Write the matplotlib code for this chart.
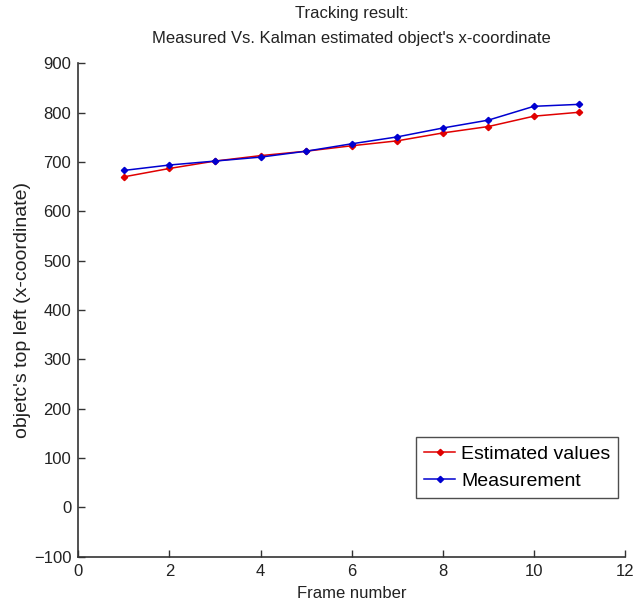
import matplotlib
matplotlib.use("Agg")
import matplotlib.pyplot as plt

frames = [1, 2, 3, 4, 5, 6, 7, 8, 9, 10, 11]
estimated = [670, 687, 702, 713, 722, 733, 743, 759, 772, 793, 801]
measured = [683, 694, 702, 710, 722, 737, 751, 769, 785, 813, 817]
xticks = [0, 2, 4, 6, 8, 10, 12]
yticks = [-100, 0, 100, 200, 300, 400, 500, 600, 700, 800, 900]

FONT = ["Liberation Sans", "DejaVu Sans"]
plt.rcParams["font.family"] = FONT

fig = plt.figure(figsize=(6.35, 6.09), dpi=100)
ax = fig.add_axes([0.1233, 0.0859, 0.861, 0.810])

ax.plot(frames, estimated, color="#e00000", marker="D", markersize=3.2,
        linewidth=1.1, label="Estimated values")
ax.plot(frames, measured, color="#0000d0", marker="D", markersize=3.2,
        linewidth=1.1, label="Measurement")

ax.set_xlim(0, 12)
ax.set_ylim(-100, 900)
ax.set_xticks(xticks)
ax.set_yticks(yticks)
ax.spines["top"].set_visible(False)
ax.spines["right"].set_visible(False)
for s in ("left", "bottom"):
    ax.spines[s].set_linewidth(1.2)
    ax.spines[s].set_color("#333333")
ax.tick_params(direction="in", length=5, width=1, colors="#333333",
               labelcolor="#222222", labelsize=12, pad=5)

ax.set_xlabel("Frame number", fontsize=12, labelpad=5, color="#222222")
ax.set_ylabel("objetc's top left (x-coordinate)", fontsize=14, labelpad=2, color="#222222")
ax.set_title("Tracking result:\nMeasured Vs. Kalman estimated object's x-coordinate",
             fontsize=12, linespacing=1.8, pad=15, color="#222222")

leg = ax.legend(loc="lower right", bbox_to_anchor=(0.987, 0.119),
                prop={"size": 14}, frameon=True, fancybox=False,
                edgecolor="#222222", borderpad=0.4, handlelength=1.6,
                labelspacing=0.5, handletextpad=0.3, borderaxespad=0)
leg.get_frame().set_linewidth(1.0)

fig.savefig("out.png", dpi=100)
